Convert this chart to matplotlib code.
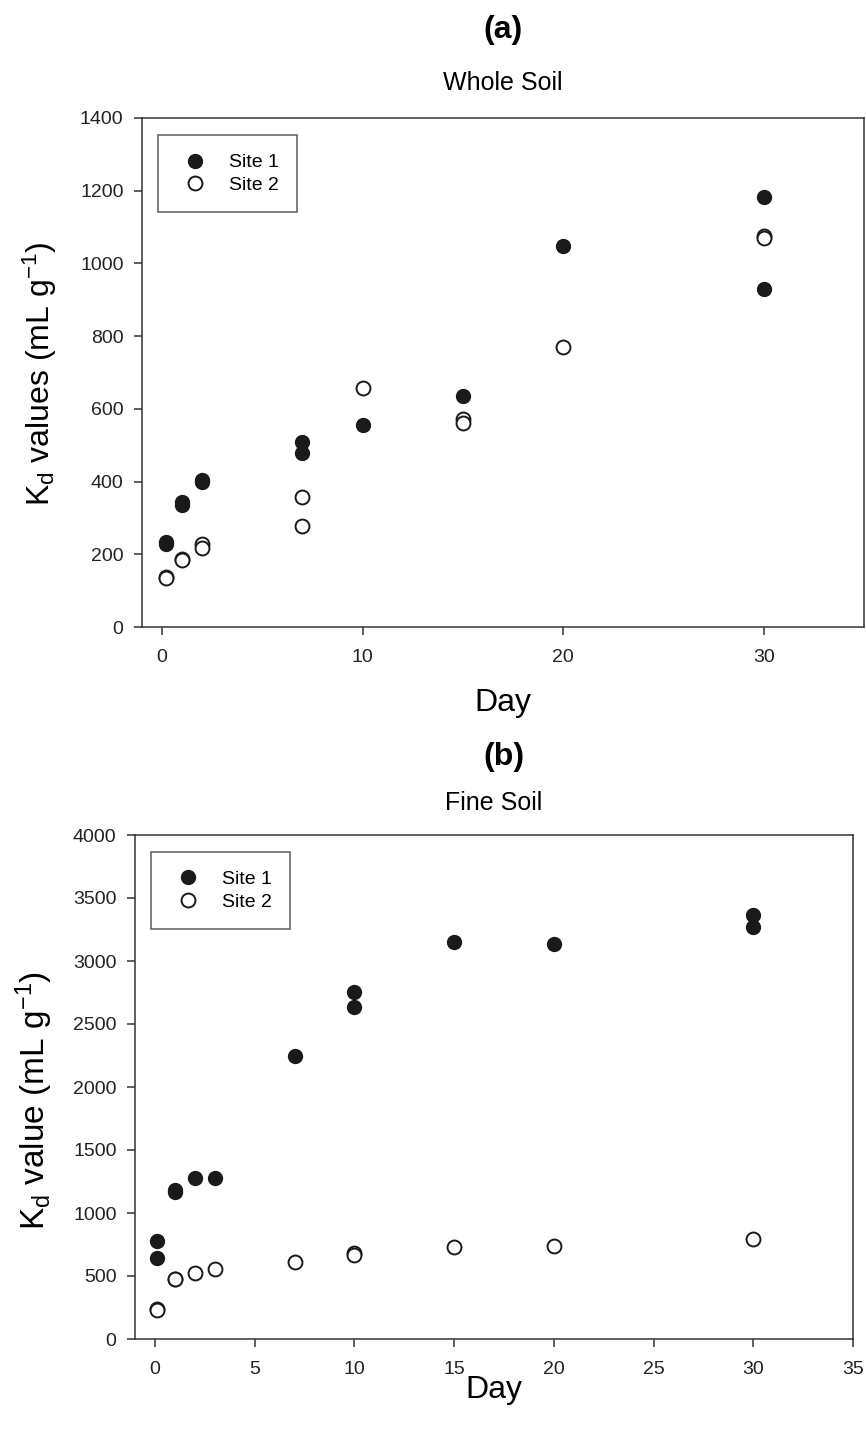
import matplotlib as mpl
import matplotlib.pyplot as plt
import numpy as np

mpl.rcParams["font.family"] = ["Liberation Sans", "DejaVu Sans"]
mpl.rcParams["mathtext.default"] = "regular"

# (a) whole soil
whole_day_1 = [0.2, 0.2, 1, 1, 2, 2, 7, 7, 10, 15, 20, 30, 30]
whole_kd_1 = [235, 228, 345, 335, 403, 398, 508, 478, 555, 635, 1048, 1183, 930]
whole_day_2 = [0.2, 0.2, 1, 1, 2, 2, 7, 7, 10, 15, 15, 20, 30, 30]
whole_kd_2 = [138, 135, 188, 185, 228, 218, 358, 277, 657, 572, 560, 770, 1075, 1070]

# (b) fine soil
fine_day_1 = [0.1, 0.1, 1, 1, 2, 3, 7, 10, 10, 15, 20, 30, 30]
fine_kd_1 = [780, 640, 1180, 1165, 1275, 1280, 2250, 2755, 2635, 3150, 3135, 3365, 3270]
fine_day_2 = [0.1, 0.1, 1, 1, 2, 3, 7, 10, 10, 15, 20, 30]
fine_kd_2 = [240, 230, 480, 475, 520, 555, 615, 680, 665, 730, 735, 795]

W, H = 866, 1432
fig = plt.figure(figsize=(W / 100, H / 100), dpi=100)

def px_axes(x0, y0, x1, y1):
    return fig.add_axes([x0 / W, 1 - y1 / H, (x1 - x0) / W, (y1 - y0) / H])

ax1 = px_axes(142, 118, 864, 627)
ax2 = px_axes(135, 835, 853, 1339)

FILL = '#1a1a1a'
MS = 10

def style(ax):
    for s in ax.spines.values():
        s.set_linewidth(1.1)
        s.set_color('#333333')
    ax.tick_params(direction='out', length=5.8, width=1.1, labelsize=14,
                   top=False, right=False, colors='#333333', labelcolor='#222222')
    ax.tick_params(axis='x', pad=10)
    ax.tick_params(axis='y', pad=7.5)

for ax, d1, k1, d2, k2 in [(ax1, whole_day_1, whole_kd_1, whole_day_2, whole_kd_2),
                           (ax2, fine_day_1, fine_kd_1, fine_day_2, fine_kd_2)]:
    ax.plot(d1, k1, 'o', ms=MS, mfc=FILL, mec=FILL, label='Site 1')
    ax.plot(d2, k2, 'o', ms=MS, mfc='white', mec=FILL, mew=1.4, label='Site 2')
    style(ax)
    leg = ax.legend(loc='upper left', bbox_to_anchor=(0.022, 0.966), frameon=True,
                    fancybox=False, edgecolor='#333333', fontsize=14,
                    handletextpad=0.8, borderpad=0.95, labelspacing=0.25,
                    handlelength=1.9, borderaxespad=0)
    leg.get_frame().set_linewidth(1.1)

ax1.set_xlim(-1, 35)
ax1.set_ylim(0, 1400)
ax1.set_xticks([0, 10, 20, 30])
ax1.set_yticks(np.arange(0, 1401, 200))

ax2.set_xlim(-1, 35)
ax2.set_ylim(0, 4000)
ax2.set_xticks(np.arange(0, 36, 5))
ax2.set_yticks(np.arange(0, 4001, 500))

def ftext(x, y, s, **kw):
    fig.text(x / W, 1 - y / H, s, ha='center', va='center', **kw)

ftext(503, 30, '(a)', fontsize=23, fontweight='bold')
ftext(503, 83, 'Whole Soil', fontsize=18)
ftext(503, 703, 'Day', fontsize=23)
ftext(40, 374, 'K$_d$ values (mL g$^{-1}$)', fontsize=23, rotation=90)

ftext(504, 757, '(b)', fontsize=23, fontweight='bold')
ftext(494, 803, 'Fine Soil', fontsize=18)
ftext(494, 1390, 'Day', fontsize=23)
ftext(34, 1100, 'K$_d$ value (mL g$^{-1}$)', fontsize=24, rotation=90)

plt.savefig('out.png', dpi=100)
plt.close()
